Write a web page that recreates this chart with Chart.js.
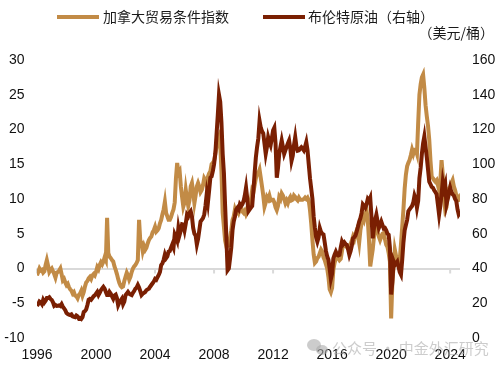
<!DOCTYPE html>
<html>
<head>
<meta charset="utf-8">
<script src="https://cdn.jsdelivr.net/npm/chart.js@4.4.0/dist/chart.umd.min.js"></script>
<style>
    body { margin: 0; background: #ffffff; }
    #wrap { width: 500px; height: 370px; position: relative; }
</style>
</head>
<body>
<div id="wrap"><canvas id="totChart"></canvas></div>
<script>
//Monthly series, first point is Jan 1996
const startYear = 1996;

//Canada terms of trade index (left axis), one row per year
const termsOfTrade = [
    -1.0, -0.5, 0, -0.3, -0.2, -0.6, -0.4, 0.5, 1.2, 0.4, -0.5, -0.2,
    0, -0.4, -0.8, -1.3, -0.6, -0.5, -0.3, 0, -0.8, -1.7, -1.5, -2.0,
    -2.4, -2.2, -2.7, -3.0, -3.2, -3.6, -3.4, -3.9, -4.0, -4.3, -3.8, -3.6,
    -3.2, -3.9, -3.4, -2.6, -2.0, -1.8, -1.4, -1.2, -1.5, -1.0, -0.8, -1.0,
    -0.5, 0.2, -0.1, 0.5, 0.9, 0.6, 1.0, 1.6, 1.2, 7.3, 2.2, 1.7,
    1.5, 1.2, 1.0, 0.3, -0.2, -0.8, -1.5, -2.1, -2.5, -2.7, -2.6, -1.8,
    -1.2, -0.6, -1.0, -1.6, -1.2, -0.5, 0, 0.3, 0.5, 0.8, 1.2, 7.0,
    4.0, 3.7, 2.5, 3.2, 2.7, 3.0, 3.6, 4.1, 4.4, 4.6, 5.2, 5.5,
    6.0, 5.3, 5.5, 5.8, 6.5, 7.0, 7.8, 8.5, 9.6, 8.0, 7.5, 7.0,
    7.0, 7.4, 8.0, 8.5, 9.5, 13.0, 15.2, 13.7, 14.0, 11.8, 10.3, 8.9,
    9.5, 11.3, 10.0, 9.0, 9.8, 11.8, 12.3, 11.0, 9.4, 10.5, 11.8, 12.3,
    11.8, 11.0, 11.3, 12.0, 13.0, 12.7, 12.0, 13.2, 13.7, 14.0, 15.0, 15.2,
    15.5, 16.5, 17.5, 18.5, 19.0, 18.0, 14.0, 8.0, 6.0, 4.0, 3.2, 3.8,
    3.5, 4.5, 5.5, 7.0, 7.5, 8.5, 8.0, 8.4, 8.0, 8.5, 8.8, 8.2,
    8.0, 8.3, 7.8, 8.2, 8.9, 9.5, 10.0, 11.3, 11.0, 12.0, 13.0, 13.7,
    13.7, 14.2, 13.0, 11.8, 10.5, 8.9, 9.5, 10.3, 10.0, 10.5, 9.8, 9.9,
    9.9, 9.5, 8.8, 8.4, 9.0, 10.3, 10.0, 10.8, 10.5, 10.0, 9.4, 9.8,
    9.4, 10.0, 10.3, 9.8, 9.9, 10.5, 10.3, 10.0, 9.8, 10.2, 9.9, 9.9,
    9.9, 10.0, 10.2, 10.0, 10.2, 9.8, 8.4, 6.5, 4.1, 2.0, 0.8, 1.0,
    1.5, 1.7, 2.2, 2.7, 2.4, 1.6, 1.2, 0.6, 0.0, -1.2, -3.0, -3.4,
    -2.8, -0.2, 0.8, 1.4, 1.7, 1.5, 1.2, 1.4, 2.5, 3.6, 3.4, 3.2,
    3.1, 2.9, 2.7, 3.5, 4.0, 4.6, 4.2, 5.0, 5.5, 4.8, 3.7, 5.5,
    6.5, 7.5, 7.0, 7.8, 8.4, 7.0, 4.0, 0.3, 1.5, 2.7, 4.5, 6.0,
    6.0, 5.2, 4.6, 4.1, 4.6, 5.0, 5.1, 4.2, 3.4, 3.1, 2.2, 1.0,
    -7.2, -2.0, 0.3, 2.7, 1.8, 1.2, 1.5, 1.2, 3.5, 6.0, 8.5, 11.5,
    13.5, 14.7, 15.2, 15.6, 16.3, 17.1, 16.5, 17.1, 17.1, 16.5, 21.0, 25.0,
    26.5, 27.5, 27.9, 26.0, 23.5, 21.9, 20.5, 18.5, 15.5, 13.2, 13.0, 12.7,
    12.5, 12.7, 12.0, 11.3, 12.5, 15.6, 13.5, 10.0, 8.4, 8.8, 10.8, 11.5,
    11.8, 12.3, 12.7, 11.8, 11.3, 10.5, 9.9, 10.2, 9.6
];

//Brent crude, USD per barrel (right axis)
const brentOil = [
    18.4, 19.5, 21.0, 20.5, 19.5, 21.9, 20.5, 21.5, 23.0, 23.0, 23.5, 22.5,
    21.9, 20.5, 18.5, 19.0, 18.5, 18.6, 18.8, 18.4, 19.5, 18.0, 17.0, 16.0,
    14.4, 13.8, 13.5, 13.2, 13.6, 12.5, 12.2, 12.0, 13.0, 12.5, 11.2, 11.5,
    11.0, 12.0, 15.0, 15.5, 16.5, 19.0, 22.0, 22.5, 22.0, 23.0, 24.0, 24.5,
    25.5, 26.5, 24.7, 26.0, 27.5, 28.5, 29.4, 28.4, 26.5, 24.7, 24.7, 26.5,
    25.5, 24.0, 22.6, 24.5, 25.0, 23.0, 18.9, 20.5, 21.5, 22.6, 19.5, 21.0,
    24.7, 25.5, 26.5, 25.5, 25.0, 24.7, 26.0, 27.0, 28.4, 29.0, 30.5, 29.0,
    27.0, 24.7, 25.5, 26.0, 26.5, 27.5, 28.0, 28.4, 29.5, 30.5, 31.5, 32.5,
    34.0, 33.5, 35.0, 36.3, 38.0, 42.0, 43.0, 45.0, 48.0, 46.0, 47.0, 49.7,
    50.0, 52.0, 53.8, 52.0, 59.6, 58.0, 56.0, 63.3, 59.4, 62.0, 65.4, 65.2,
    62.0, 66.0, 71.0, 70.0, 72.0, 73.0, 70.0, 63.3, 60.0, 59.0, 53.8, 57.0,
    62.0, 67.0, 68.0, 69.0, 71.0, 76.0, 82.7, 78.0, 85.0, 92.3, 93.0, 96.0,
    100, 106, 117, 128, 140, 136, 124, 106, 95, 76, 58, 39,
    40, 45.8, 52, 62, 67, 70, 74, 75, 74, 77, 76, 77,
    78.8, 82, 86.5, 80, 73, 74, 75, 76, 85, 95, 104, 110,
    115, 125, 121, 119, 117.7, 112, 106, 110, 115.6, 113, 111, 115,
    119.5, 121, 112, 92.3, 98, 106, 110, 113.7, 110, 106, 108, 110,
    112, 113.7, 109, 102, 105, 111, 115.6, 110, 107.8, 108, 109, 109.8,
    109, 108, 110, 112.7, 108, 100, 92, 86, 80, 70, 63.3, 58,
    55.5, 58, 63.3, 61, 60, 59.6, 55, 50, 47, 45, 40, 34,
    37, 45.8, 48, 49.7, 48, 47.5, 47.8, 52, 55.5, 54, 55, 54,
    53.6, 51, 47.8, 50, 53, 57.4, 58, 59, 61.3, 64, 67, 69,
    72, 76.9, 76, 75, 77, 80, 79, 80.7, 70, 57.4, 63, 68,
    71, 67, 63.3, 65, 67, 65, 63, 63.3, 62, 60, 59.4, 52,
    25, 32, 44, 42, 43, 44, 41, 38, 36.5, 45, 55, 62,
    65, 68, 73, 74, 75, 76, 78, 82, 80, 75, 79, 92,
    98, 106, 112, 116, 110, 104, 97, 90, 88.5, 87, 86.5, 85,
    84, 82.7, 77, 71, 76, 82.7, 90, 86, 88.5, 76.9, 80, 83,
    86.5, 84, 82.7, 82, 80, 78.8, 74, 71, 72
];

const seriesNames = ["加拿大贸易条件指数", "布伦特原油（右轴）"];
const seriesColors = ["#C28B46", "#7A1F02"];
const unitLabel = "（美元/桶）";
const watermark = "公众号 · 中金外汇研究";

//Turn a monthly array into x/y points
function toPoints(values) {
    return values.map((v, i) => ({x: startYear + i / 12, y: v}));
}

const tickFont = {family: "'Liberation Sans', Arial, sans-serif", size: 14};
const cjkFont = "14px 'Noto Sans CJK SC', sans-serif";

//Legend, unit label, zero-line tick marks and watermark
const decorPlugin = {
    id: "decor",
    beforeDatasetsDraw(chart) {
        const ctx = chart.ctx;
        const x = chart.scales.x;
        const y0 = chart.scales.y.getPixelForValue(0);
        ctx.save();
        ctx.strokeStyle = "#D9D9D9";
        ctx.lineWidth = 2;
        x.ticks.forEach(t => {
            const px = x.getPixelForValue(t.value);
            ctx.beginPath();
            ctx.moveTo(px, y0);
            ctx.lineTo(px, y0 + 5);
            ctx.stroke();
        });
        ctx.restore();
    },
    afterDraw(chart) {
        const ctx = chart.ctx;
        ctx.save();
        //legend
        const items = [{x: 57, textX: 103}, {x: 263, textX: 308}];
        ctx.font = cjkFont;
        ctx.textBaseline = "middle";
        ctx.fillStyle = "#1a1a1a";
        items.forEach((it, i) => {
            ctx.strokeStyle = chart.data.datasets[i].borderColor;
            ctx.lineWidth = 4;
            ctx.beginPath();
            ctx.moveTo(it.x, 17);
            ctx.lineTo(it.x + 42, 17);
            ctx.stroke();
            ctx.fillText(chart.data.datasets[i].label, it.textX, 17);
        });
        //unit
        ctx.textAlign = "right";
        ctx.fillText(unitLabel, 494, 33);
        //watermark
        ctx.textAlign = "left";
        ctx.fillStyle = "rgba(170,170,170,0.6)";
        ctx.beginPath();
        ctx.ellipse(314, 345, 7, 6, 0, 0, Math.PI * 2);
        ctx.fill();
        ctx.beginPath();
        ctx.ellipse(322, 350, 6, 5, 0, 0, Math.PI * 2);
        ctx.fill();
        ctx.font = "15px 'Noto Sans CJK SC', sans-serif";
        ctx.fillText(watermark, 332, 348);
        ctx.restore();
    }
};

const ctx = document.getElementById("totChart").getContext("2d");
new Chart(ctx, {
    type: "line",
    data: {
        datasets: [
            {
                label: seriesNames[0],
                data: toPoints(termsOfTrade),
                borderColor: seriesColors[0],
                backgroundColor: seriesColors[0],
                borderWidth: 4,
                pointRadius: 0,
                tension: 0,
                yAxisID: "y",
                order: 2
            },
            {
                label: seriesNames[1],
                data: toPoints(brentOil),
                borderColor: seriesColors[1],
                backgroundColor: seriesColors[1],
                borderWidth: 4,
                pointRadius: 0,
                tension: 0,
                yAxisID: "y1",
                order: 1
            }
        ]
    },
    options: {
        responsive: true,
        maintainAspectRatio: false,
        animation: false,
        layout: {padding: {top: 60, left: 3, right: 4.5, bottom: 0}},
        plugins: {
            legend: {display: false},
            tooltip: {enabled: false}
        },
        scales: {
            x: {
                type: "linear",
                min: startYear,
                max: startYear + (termsOfTrade.length - 1) / 12,
                grid: {display: false, drawTicks: false},
                border: {display: false},
                afterFit: s => { s.height = 32; },
                ticks: {
                    stepSize: 4,
                    includeBounds: false,
                    autoSkip: false,
                    maxRotation: 0,
                    padding: 8.5,
                    color: "#111",
                    font: tickFont,
                    callback: v => Number.isInteger(v) ? String(v) : ""
                }
            },
            y: {
                position: "left",
                min: -10,
                max: 30,
                grid: {
                    drawTicks: false,
                    lineWidth: 2,
                    color: c => c.tick.value === 0 ? "#D9D9D9" : "rgba(0,0,0,0)"
                },
                border: {display: false},
                afterFit: s => { s.width = 34; },
                ticks: {stepSize: 5, padding: 12.5, color: "#111", font: tickFont}
            },
            y1: {
                position: "right",
                min: 0,
                max: 160,
                grid: {display: false, drawTicks: false},
                border: {display: false},
                afterFit: s => { s.width = 35.5; },
                ticks: {stepSize: 20, padding: 12, color: "#111", font: tickFont}
            }
        }
    },
    plugins: [decorPlugin]
});
</script>
</body>
</html>
